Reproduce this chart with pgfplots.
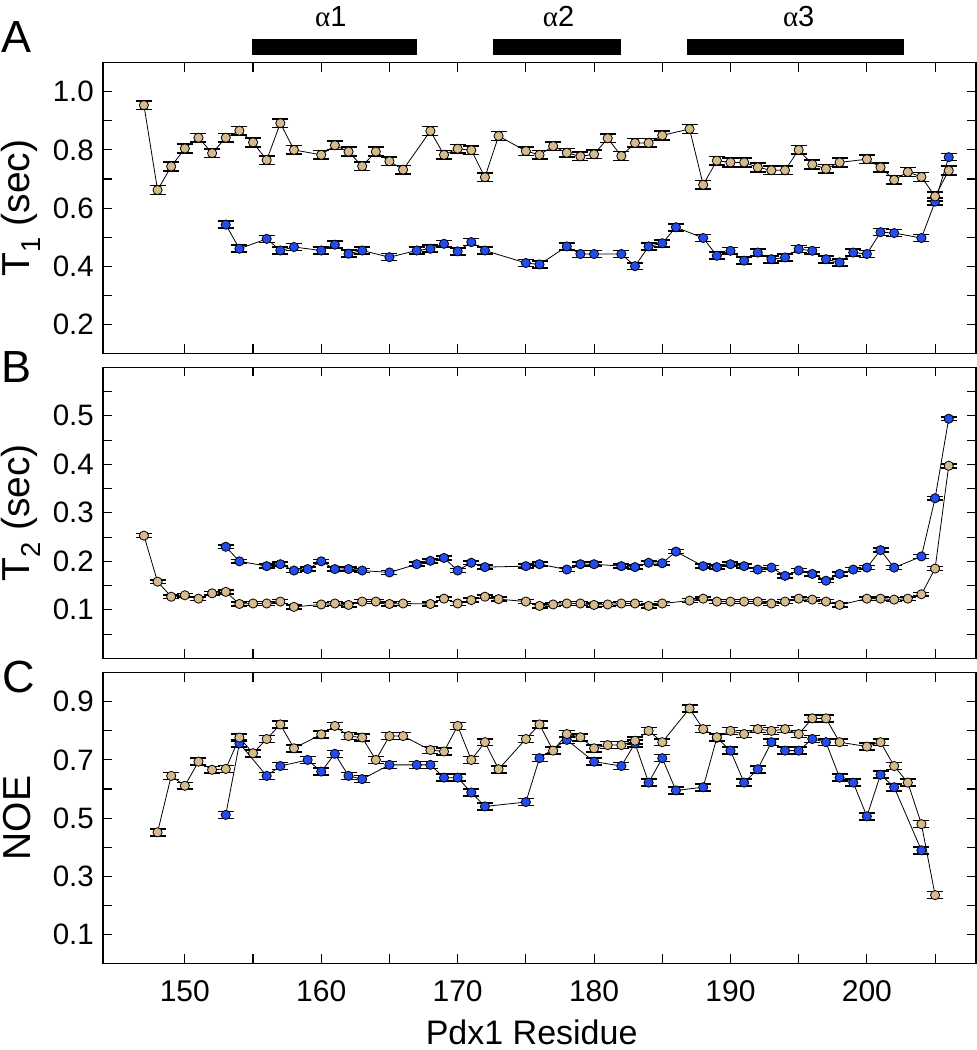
\documentclass[border=0pt]{standalone}
\usepackage{fontspec}
\setmainfont{Liberation Sans}
\newfontfamily\grk{Liberation Serif}
\usepackage{pgfplots}
\usepackage{pgfplotstable}
\pgfplotsset{compat=1.18}
\definecolor{tanc}{RGB}{214,186,140}
\definecolor{bluec}{RGB}{35,75,240}

\pgfplotstableread{
147 0.954
148 0.662
149 0.743
150 0.805
151 0.842
152 0.789
153 0.842
154 0.866
155 0.826
156 0.765
157 0.892
158 0.800
160 0.783
161 0.816
162 0.794
163 0.744
164 0.794
165 0.761
166 0.732
168 0.865
169 0.783
170 0.804
171 0.799
172 0.706
173 0.848
175 0.796
176 0.783
177 0.813
178 0.790
179 0.778
180 0.785
181 0.840
182 0.779
183 0.824
184 0.824
185 0.850
187 0.872
188 0.680
189 0.763
190 0.757
191 0.757
192 0.740
193 0.730
194 0.730
195 0.800
196 0.750
197 0.735
198 0.757
200 0.768
201 0.740
202 0.697
203 0.724
204 0.707
205 0.640
206 0.729
}\Atan

\pgfplotstableread{
153 0.543
154 0.460
156 0.494
157 0.454
158 0.466
160 0.454
161 0.474
162 0.443
163 0.454
165 0.431
167 0.454
168 0.460
169 0.477
170 0.451
171 0.483
172 0.454
175 0.411
176 0.406
178 0.468
179 0.442
180 0.442
182 0.442
183 0.400
184 0.468
185 0.479
186 0.534
188 0.497
189 0.436
190 0.453
191 0.419
192 0.447
193 0.424
194 0.430
195 0.459
196 0.453
197 0.424
198 0.413
199 0.447
200 0.442
201 0.517
202 0.514
204 0.497
205 0.622
206 0.775
}\Ablue

\pgfplotstableread{
147 0.253
148 0.158
149 0.127
150 0.130
151 0.123
152 0.134
153 0.137
154 0.112
155 0.113
156 0.113
157 0.117
158 0.106
160 0.111
161 0.113
162 0.110
163 0.117
164 0.117
165 0.112
166 0.113
168 0.112
169 0.123
170 0.113
171 0.120
172 0.127
173 0.122
175 0.117
176 0.108
177 0.111
178 0.113
179 0.113
180 0.110
181 0.111
182 0.113
183 0.113
184 0.108
185 0.113
187 0.119
188 0.123
189 0.117
190 0.117
191 0.117
192 0.117
193 0.113
194 0.117
195 0.123
196 0.121
197 0.117
198 0.110
200 0.123
201 0.123
202 0.121
203 0.123
204 0.132
205 0.185
206 0.397
}\Btan

\pgfplotstableread{
153 0.230
154 0.200
156 0.190
157 0.194
158 0.181
159 0.184
160 0.200
161 0.184
162 0.184
163 0.181
165 0.177
167 0.194
168 0.201
169 0.207
170 0.181
171 0.197
172 0.188
175 0.190
176 0.194
178 0.183
179 0.194
180 0.194
182 0.190
183 0.188
184 0.197
185 0.196
186 0.220
188 0.190
189 0.188
190 0.194
191 0.190
192 0.183
193 0.187
194 0.170
195 0.181
196 0.174
197 0.160
198 0.174
199 0.183
200 0.187
201 0.223
202 0.187
204 0.210
205 0.330
206 0.494
}\Bblue

\pgfplotstableread{
148 0.451
149 0.645
150 0.611
151 0.694
152 0.666
153 0.669
154 0.777
155 0.723
156 0.772
157 0.822
158 0.740
160 0.788
161 0.817
162 0.782
163 0.777
164 0.700
165 0.782
166 0.782
168 0.734
169 0.729
170 0.817
171 0.700
172 0.761
173 0.668
175 0.772
176 0.822
177 0.732
178 0.789
179 0.778
180 0.740
181 0.751
182 0.751
183 0.766
184 0.800
185 0.761
187 0.877
188 0.806
189 0.778
190 0.800
191 0.789
192 0.806
193 0.800
194 0.806
195 0.789
196 0.843
197 0.843
198 0.761
200 0.746
201 0.761
202 0.679
203 0.622
204 0.479
205 0.235
}\Ctan

\pgfplotstableread{
153 0.511
154 0.757
156 0.645
157 0.679
159 0.700
160 0.660
161 0.721
162 0.645
163 0.634
165 0.683
167 0.683
168 0.683
169 0.639
170 0.639
171 0.588
172 0.540
175 0.555
176 0.706
178 0.769
180 0.694
182 0.679
183 0.757
184 0.622
185 0.706
186 0.595
188 0.606
189 0.776
190 0.732
191 0.622
192 0.668
193 0.761
194 0.732
195 0.732
196 0.772
197 0.761
198 0.639
199 0.622
200 0.506
201 0.649
202 0.606
204 0.389
}\Cblue

\pgfplotsset{
  panel/.style={
    scale only axis, width=873pt,
    xmin=144, xmax=208,
    xtick={150,160,...,200}, minor xtick={155,165,...,205},
    major tick length=9pt, minor tick length=9pt,
    tick style={black, line width=1.1pt},
    axis line style={line width=1.3pt},
    /pgf/number format/assume math mode=true,
    xticklabel style={font=\fontsize{30}{34}\selectfont, inner sep=0pt, yshift=-17pt},
    yticklabel style={font=\fontsize{29.5}{33}\selectfont, inner sep=0pt, xshift=-9pt,
      /pgf/number format/fixed, /pgf/number format/fixed zerofill, /pgf/number format/precision=1},
    ylabel style={at={(axis description cs:-0.094,0.5)}, anchor=center, inner sep=0pt, font=\fontsize{39}{43}\selectfont},
  },
  tanp/.style={black, line width=0.8pt, mark=*, mark size=4.6pt,
    mark options={fill=tanc, draw=black, line width=0.8pt},
    error bars/y dir=both, error bars/y fixed=#1,
    error bars/error bar style={line width=1pt, black},
    error bars/error mark options={rotate=90, line width=1.6pt, mark size=8pt, black}},
  bluep/.style={black, line width=0.8pt, mark=*, mark size=4.6pt,
    mark options={fill=bluec, draw=black, line width=0.8pt},
    error bars/y dir=both, error bars/y fixed=#1,
    error bars/error bar style={line width=1pt, black},
    error bars/error mark options={rotate=90, line width=1.6pt, mark size=8pt, black}},
}

\begin{document}
\begin{tikzpicture}
\path[use as bounding box] (0pt,0pt) rectangle (977pt,-1050pt);

% Panel A
\begin{axis}[panel, at={(103pt,-62.7pt)}, anchor=north west, height=290.7pt,
  ymin=0.1, ymax=1.1, ytick={0.2,0.4,0.6,0.8,1.0}, minor ytick={0.3,0.5,0.7,0.9},
  xticklabels={}, clip=false,
  ylabel={T\textsubscript{1} (sec)}]
\addplot[bluep=0.012] table[x index=0, y index=1] {\Ablue};
\addplot[tanp=0.015] table[x index=0, y index=1] {\Atan};
\fill[black] (axis cs:154.9,1.1265) rectangle (axis cs:167.0,1.1805);
\fill[black] (axis cs:172.6,1.1265) rectangle (axis cs:182.0,1.1805);
\fill[black] (axis cs:186.8,1.1265) rectangle (axis cs:202.7,1.1805);
\node[font=\fontsize{29}{33}\selectfont] at (axis cs:160.7,1.259) {{\grk α}1};
\node[font=\fontsize{29}{33}\selectfont] at (axis cs:177.4,1.259) {{\grk α}2};
\node[font=\fontsize{29}{33}\selectfont] at (axis cs:195.0,1.259) {{\grk α}3};
\end{axis}

% Panel B
\begin{axis}[panel, at={(103pt,-367.3pt)}, anchor=north west, height=291pt,
  ymin=0, ymax=0.6, ytick={0.1,0.2,0.3,0.4,0.5}, minor ytick={0.05,0.15,0.25,0.35,0.45,0.55},
  xticklabels={},
  ylabel={T\textsubscript{2} (sec)}]
\addplot[bluep=0.004] table[x index=0, y index=1] {\Bblue};
\addplot[tanp=0.004] table[x index=0, y index=1] {\Btan};
\end{axis}

% Panel C
\begin{axis}[panel, at={(103pt,-672.7pt)}, anchor=north west, height=290.7pt,
  ymin=0, ymax=1.0, ytick={0.1,0.3,0.5,0.7,0.9}, minor ytick={0.2,0.4,0.6,0.8},
  ylabel={NOE},
  ylabel style={at={(axis description cs:-0.098,0.5)}},
  xlabel={Pdx1 Residue},
  xlabel style={at={(axis description cs:0.491,-0.236)}, anchor=center, font=\fontsize{34}{38}\selectfont}]
\addplot[bluep=0.012] table[x index=0, y index=1] {\Cblue};
\addplot[tanp=0.012] table[x index=0, y index=1] {\Ctan};
\end{axis}

\node[font=\fontsize{45}{50}\selectfont, inner sep=0pt] at (17pt,-37.5pt) {A};
\node[font=\fontsize{45}{50}\selectfont, inner sep=0pt] at (17pt,-367pt) {B};
\node[font=\fontsize{45}{50}\selectfont, inner sep=0pt] at (18.5pt,-677pt) {C};
\end{tikzpicture}
\end{document}
